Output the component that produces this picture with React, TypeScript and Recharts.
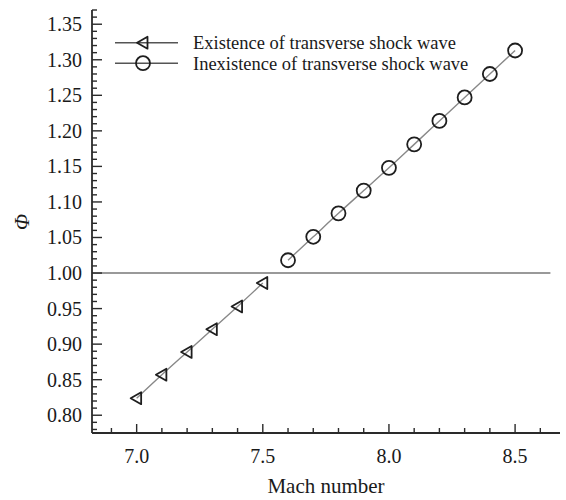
import React from 'react';
import { LineChart, Line, XAxis, YAxis, ReferenceLine } from 'recharts';

const machExist = [7.0, 7.1, 7.2, 7.3, 7.4, 7.5];
const phiExist = [0.824, 0.857, 0.889, 0.921, 0.953, 0.986];
const machNone = [7.6, 7.7, 7.8, 7.9, 8.0, 8.1, 8.2, 8.3, 8.4, 8.5];
const phiNone = [1.018, 1.051, 1.084, 1.116, 1.148, 1.181, 1.214, 1.247, 1.28, 1.313];
const seriesNames = ['Existence of transverse shock wave', 'Inexistence of transverse shock wave'];
const xTicks = [6.9, 7.0, 7.1, 7.2, 7.3, 7.4, 7.5, 7.6, 7.7, 7.8, 7.9, 8.0, 8.1, 8.2, 8.3, 8.4, 8.5, 8.6];
const yTicks = Array.from({ length: 60 }, (_, i) => Math.round((0.78 + i * 0.01) * 100) / 100);
const xTitle = 'Mach number';
const yTitle = 'Φ';

const existData = machExist.map((x, i) => ({ x, y: phiExist[i] }));
const noneData = machNone.map((x, i) => ({ x, y: phiNone[i] }));

const FONT = '"Liberation Serif", "Times New Roman", serif';
const AXIS = '#2a2a2a';
const MARK = '#1e1e1e';
const LINE = '#888';
const TEXT = '#1a1a1a';
const txtStyle: React.CSSProperties = { fontFamily: FONT };

const YTick = (props: any) => {
  const { x, y, payload } = props;
  const v = payload.value as number;
  const major = Math.round(v * 100) % 5 === 0;
  return (
    <g>
      <line x1={x} x2={x + (major ? 10 : 5)} y1={y} y2={y} stroke={AXIS} strokeWidth={1.4} />
      {major && (
        <text x={x - 10} y={y} dy="0.35em" textAnchor="end" style={txtStyle} fontSize={20} fill={TEXT}>
          {v.toFixed(2)}
        </text>
      )}
    </g>
  );
};

const XTick = (props: any) => {
  const { x, y, payload } = props;
  const v = payload.value as number;
  const major = Math.round(v * 10) % 5 === 0;
  return (
    <g>
      <line x1={x} x2={x} y1={y} y2={y - (major ? 9 : 5)} stroke={AXIS} strokeWidth={1.4} />
      {major && (
        <text x={x} y={y + 30} textAnchor="middle" style={txtStyle} fontSize={20} fill={TEXT}>
          {v.toFixed(1)}
        </text>
      )}
    </g>
  );
};

const TriDot = (props: any) => {
  const { cx, cy } = props;
  if (cx == null || cy == null) return null;
  return (
    <path
      d={`M${cx - 6},${cy} L${cx + 4.5},${cy - 6} L${cx + 4.5},${cy + 6} Z`}
      fill="none"
      stroke={MARK}
      strokeWidth={1.8}
      strokeLinejoin="round"
    />
  );
};

const CircDot = (props: any) => {
  const { cx, cy } = props;
  if (cx == null || cy == null) return null;
  return <circle cx={cx} cy={cy} r={7} fill="none" stroke={MARK} strokeWidth={1.8} />;
};

const YLabel = () => {
  return (
    <text
      x={22}
      y={222}
      transform="rotate(-90 22 222)"
      textAnchor="middle"
      dy="0.35em"
      style={{ fontFamily: FONT, fontStyle: 'italic' }}
      fontSize={21}
      fill={TEXT}
    >
      {yTitle}
    </text>
  );
};

const XLabel = () => {
  return (
    <text x={326} y={493} textAnchor="middle" style={txtStyle} fontSize={21} fill={TEXT}>
      {xTitle}
    </text>
  );
};

export default function App() {
  return (
    <div style={{ position: 'absolute', left: 0, top: 0, width: 566, height: 500, background: '#fff', fontFamily: FONT }}>
      <LineChart width={566} height={500} margin={{ top: 10, right: 6, bottom: 0, left: 0 }} style={txtStyle}>
        <XAxis
          type="number"
          dataKey="x"
          domain={[6.823, 8.678]}
          allowDataOverflow
          ticks={xTicks}
          interval={0}
          tick={<XTick />}
          tickLine={false}
          tickSize={0}
          tickMargin={0}
          height={67}
          axisLine={{ stroke: AXIS, strokeWidth: 1.8 }}
          label={<XLabel />}
        />
        <YAxis
          type="number"
          dataKey="y"
          domain={[0.775, 1.37]}
          allowDataOverflow
          ticks={yTicks}
          interval={0}
          tick={<YTick />}
          tickLine={false}
          tickSize={0}
          tickMargin={0}
          width={92}
          axisLine={{ stroke: AXIS, strokeWidth: 1.8 }}
          label={<YLabel />}
        />
        <ReferenceLine
          segment={[{ x: 6.823, y: 1.0 }, { x: 8.64, y: 1.0 }]}
          stroke="#999"
          strokeWidth={2}
        />
        <Line
          data={existData}
          dataKey="y"
          name={seriesNames[0]}
          type="monotone"
          stroke={LINE}
          strokeWidth={1.4}
          dot={<TriDot />}
          isAnimationActive={false}
        />
        <Line
          data={noneData}
          dataKey="y"
          name={seriesNames[1]}
          type="monotone"
          stroke={LINE}
          strokeWidth={1.4}
          dot={<CircDot />}
          isAnimationActive={false}
        />
      </LineChart>
      <svg
        width={566}
        height={100}
        style={{ position: 'absolute', left: 0, top: 0, pointerEvents: 'none' }}
      >
        {seriesNames.map((name, i) => {
          const y = 42.7 + i * 20.5;
          return (
            <g key={name}>
              <line x1={115} x2={178} y1={y} y2={y} stroke="#555" strokeWidth={1.5} />
              {i === 0 ? <TriDot cx={143} cy={y} /> : <CircDot cx={143} cy={y} />}
              <text x={193} y={y} dy="0.35em" style={txtStyle} fontSize={18.5} fill={TEXT}>
                {name}
              </text>
            </g>
          );
        })}
      </svg>
    </div>
  );
}
